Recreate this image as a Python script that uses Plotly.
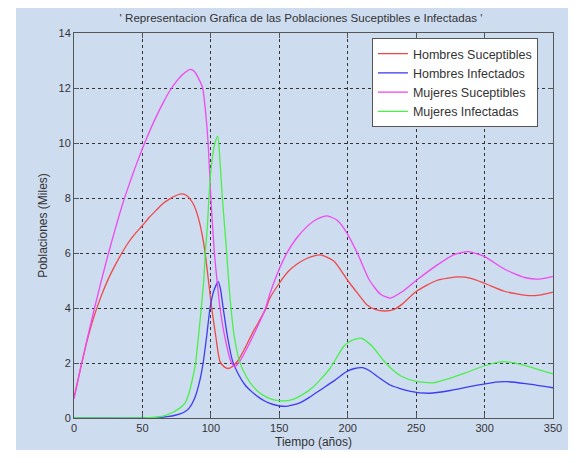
import plotly.graph_objects as go

# ---- data ----
t_hs = [0, 5, 10, 15, 20, 25, 30, 35, 40, 45, 50, 55, 60, 65, 70, 75, 78, 82, 85, 88, 91, 93.5, 95.7, 98,
        100.6, 103.5, 106.7, 110, 112.8, 116, 120, 125, 130, 135, 140, 143, 150, 156, 163, 170, 180, 190,
        200, 207, 214, 220, 227, 234, 240, 250, 265, 281, 290, 300, 315, 332, 340, 350]
hs = [0.75, 1.85, 2.9, 3.75, 4.45, 5.05, 5.55, 6.0, 6.4, 6.72, 7.0, 7.3, 7.55, 7.8, 7.97, 8.1, 8.15,
      8.1, 7.95, 7.7, 7.25, 6.7, 6.05, 5.1, 4.0, 3.0, 2.05, 1.85, 1.8, 1.88, 2.1, 2.55, 3.05, 3.5, 3.95,
      4.35, 4.9, 5.3, 5.6, 5.8, 5.93, 5.7, 5.0, 4.55, 4.12, 3.95, 3.89, 3.95, 4.15, 4.6, 5.0, 5.13, 5.08,
      4.9, 4.6, 4.45, 4.47, 4.58]

t_hi = [0, 55, 62, 68, 74, 80, 84, 88, 92, 94.5, 97, 99.4, 102, 105.4, 107, 109, 112, 116, 120, 125, 130,
        135, 140, 145, 155, 165, 172, 180, 190, 199, 205, 211, 216, 222, 231, 245, 260, 275, 289, 305,
        316, 330, 350]
hi = [0, 0, 0.02, 0.05, 0.1, 0.2, 0.35, 0.7, 1.38, 2.05, 3.0, 4.0, 4.6, 4.96, 4.7, 4.0, 3.0, 2.05, 1.6,
      1.2, 0.95, 0.75, 0.6, 0.5, 0.42, 0.55, 0.75, 1.02, 1.35, 1.68, 1.8, 1.83, 1.72, 1.5, 1.2, 0.98,
      0.9, 1.0, 1.14, 1.28, 1.32, 1.25, 1.1]

t_ms = [0, 5, 10, 15, 20, 25, 30, 35, 40, 45, 50, 55, 60, 65, 70, 75, 80, 85, 88, 91, 94, 96, 98,
        100, 102.5, 104.5, 106.7, 110, 114.7, 117.6, 121, 125, 132, 140, 143, 149, 155, 162, 170, 177,
        185, 192, 198, 207, 216, 224, 231, 240, 250, 265, 278, 288, 300, 315, 330, 340, 350]
ms = [0.7, 1.85, 2.95, 4.0, 5.0, 5.95, 6.85, 7.7, 8.45, 9.15, 9.8, 10.4, 10.95, 11.45, 11.9, 12.25,
      12.52, 12.68, 12.6, 12.35, 12.0, 11.2, 10.0, 8.0, 6.05, 5.0, 4.0, 3.0, 2.05, 1.87, 2.05, 2.4, 3.1,
      4.0, 4.5, 5.3, 5.95, 6.5, 6.95, 7.22, 7.35, 7.2, 6.84, 6.0, 5.0, 4.5, 4.36, 4.6, 5.0, 5.55, 5.95,
      6.05, 5.87, 5.4, 5.1, 5.05, 5.15]

t_mi = [0, 50, 58, 65, 72, 77, 81, 84, 86, 88, 89, 91, 93, 94.8, 96, 97.5, 98.6, 100, 101.5, 103, 105,
        106.5, 108.4, 110, 111.5, 113, 114.7, 117, 121, 126, 131, 136, 140, 146, 153, 160, 167, 175,
        181, 187, 192, 197, 203, 210, 218, 226, 233, 240, 250, 262, 275, 285, 300, 314, 328, 340, 350]
mi = [0, 0, 0.02, 0.07, 0.2, 0.35, 0.53, 0.9, 1.3, 1.75, 2.05, 3.0, 4.0, 5.0, 6.05, 7.0, 8.0, 9.0, 9.6,
      10.0, 10.25, 9.5, 8.0, 7.0, 6.05, 5.0, 4.0, 3.0, 2.05, 1.5, 1.14, 0.9, 0.78, 0.66, 0.62, 0.68,
      0.85, 1.14, 1.45, 1.8, 2.2, 2.6, 2.82, 2.9, 2.6, 2.1, 1.75, 1.5, 1.33, 1.28, 1.45, 1.62, 1.9,
      2.05, 1.93, 1.75, 1.6]

names = ["Hombres Suceptibles", "Hombres Infectados", "Mujeres Suceptibles", "Mujeres Infectadas"]
colors = ["#f04848", "#3c3cf0", "#f048f0", "#48f048"]

x_ticks = [0, 50, 100, 150, 200, 250, 300, 350]
y_ticks = [0, 2, 4, 6, 8, 10, 12, 14]

FONT = "Liberation Sans, Arial, sans-serif"
TXT = "#333333"

fig = go.Figure()
for tt, yy, nm, col in zip([t_hs, t_hi, t_ms, t_mi], [hs, hi, ms, mi], names, colors):
    fig.add_trace(go.Scatter(x=tt, y=yy, name=nm, mode="lines",
                             line=dict(color=col, width=1.3, shape="spline", smoothing=0.6)))

axis_common = dict(showgrid=True, gridcolor="#333333", griddash="dot", gridwidth=1,
                   showline=True, linecolor="#555555", linewidth=1, mirror="ticks",
                   ticks="inside", ticklen=5, tickcolor="#555555", zeroline=False,
                   tickfont=dict(family=FONT, size=11, color=TXT))

fig.update_layout(
    width=578, height=463,
    margin=dict(l=74, r=25, t=33, b=45),
    paper_bgcolor="#ffffff",
    plot_bgcolor="#ffffff",
    font=dict(family=FONT, color=TXT),
    title=dict(text="' Representacion Grafica de las Poblaciones Suceptibles e Infectadas '",
               x=(301 - 74) / 479, xref="paper", xanchor="center", y=1 - 18 / 463, yref="container",
               yanchor="middle", font=dict(family=FONT, size=11.6, color=TXT)),
    xaxis=dict(range=[0, 350], tickvals=x_ticks,
               title=dict(text="Tiempo (años)", font=dict(family=FONT, size=12, color=TXT), standoff=4),
               **axis_common),
    yaxis=dict(range=[0, 14], tickvals=y_ticks,
               title=dict(text="Poblaciones (Miles)", font=dict(family=FONT, size=12, color=TXT), standoff=8),
               **axis_common),
    legend=dict(x=0.622, y=0.987, xanchor="left", yanchor="top", bgcolor="#ffffff",
                bordercolor="#555555", borderwidth=1, font=dict(family=FONT, size=12.5, color=TXT),
                tracegroupgap=0, itemwidth=30),
    showlegend=True,
    shapes=[dict(type="rect", xref="paper", yref="paper", layer="below",
                 x0=(16 - 74) / 479, x1=(568 - 74) / 479, y0=(418 - 450) / 385, y1=(418 - 8) / 385,
                 fillcolor="#cedcf0", line=dict(width=0))],
)

fig.write_html("out.html")
